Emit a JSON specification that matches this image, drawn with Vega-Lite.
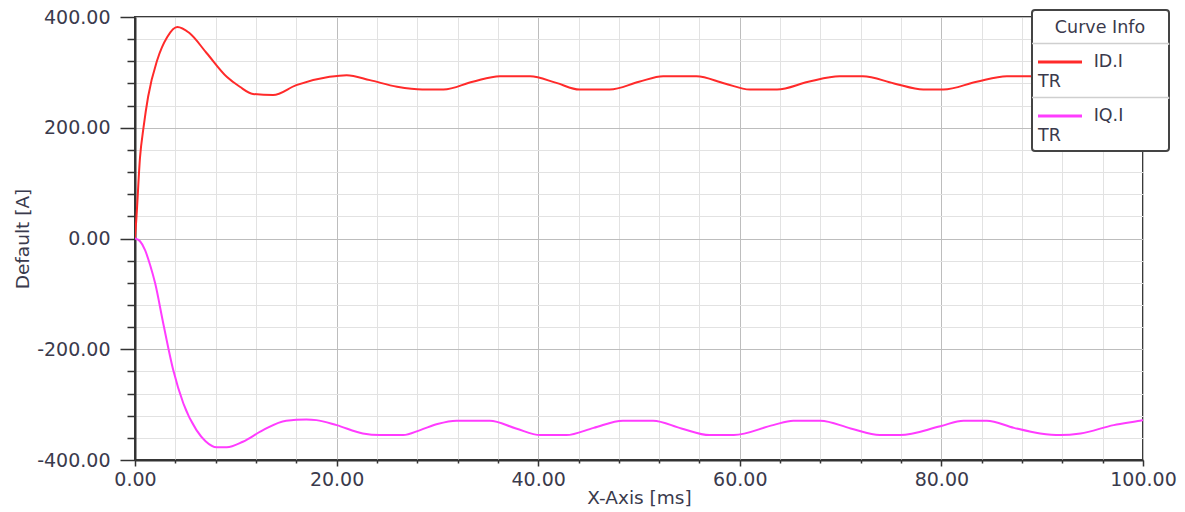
{
  "$schema": "https://vega.github.io/schema/vega-lite/v6.json",
  "autosize": {"type": "none"},
  "width": 1008,
  "height": 443,
  "padding": {"left": 135, "top": 17, "right": 42, "bottom": 52},
  "background": "white",
  "config": {
    "view": {"stroke": "#3a3a3a", "strokeWidth": 2},
    "font": "DejaVu Sans"
  },
  "data": {
    "values": [
      {"t": 0, "v": 0, "curve": "ID.I"},
      {"t": 0.15, "v": 40, "curve": "ID.I"},
      {"t": 0.5, "v": 147, "curve": "ID.I"},
      {"t": 0.85, "v": 201, "curve": "ID.I"},
      {"t": 1.3, "v": 256, "curve": "ID.I"},
      {"t": 2.2, "v": 322, "curve": "ID.I"},
      {"t": 3.2, "v": 364, "curve": "ID.I"},
      {"t": 4.2, "v": 382, "curve": "ID.I"},
      {"t": 5.4, "v": 371, "curve": "ID.I"},
      {"t": 7.1, "v": 335, "curve": "ID.I"},
      {"t": 9.1, "v": 292, "curve": "ID.I"},
      {"t": 10.4, "v": 274, "curve": "ID.I"},
      {"t": 11.7, "v": 261, "curve": "ID.I"},
      {"t": 13.7, "v": 259, "curve": "ID.I"},
      {"t": 16.0, "v": 277, "curve": "ID.I"},
      {"t": 19.3, "v": 292, "curve": "ID.I"},
      {"t": 21.0, "v": 295, "curve": "ID.I"},
      {"t": 23.3, "v": 286, "curve": "ID.I"},
      {"t": 26.0, "v": 274, "curve": "ID.I"},
      {"t": 28.5, "v": 269, "curve": "ID.I"},
      {"t": 30.6, "v": 269, "curve": "ID.I"},
      {"t": 33.5, "v": 283, "curve": "ID.I"},
      {"t": 36.2, "v": 293, "curve": "ID.I"},
      {"t": 39.2, "v": 293, "curve": "ID.I"},
      {"t": 41.8, "v": 281, "curve": "ID.I"},
      {"t": 44.1, "v": 269, "curve": "ID.I"},
      {"t": 47.1, "v": 269, "curve": "ID.I"},
      {"t": 50.0, "v": 283, "curve": "ID.I"},
      {"t": 52.4, "v": 293, "curve": "ID.I"},
      {"t": 55.7, "v": 293, "curve": "ID.I"},
      {"t": 58.5, "v": 280, "curve": "ID.I"},
      {"t": 61.0, "v": 269, "curve": "ID.I"},
      {"t": 63.7, "v": 269, "curve": "ID.I"},
      {"t": 66.8, "v": 283, "curve": "ID.I"},
      {"t": 69.9, "v": 293, "curve": "ID.I"},
      {"t": 72.2, "v": 293, "curve": "ID.I"},
      {"t": 75.3, "v": 280, "curve": "ID.I"},
      {"t": 78.2, "v": 269, "curve": "ID.I"},
      {"t": 80.2, "v": 269, "curve": "ID.I"},
      {"t": 83.5, "v": 283, "curve": "ID.I"},
      {"t": 86.5, "v": 293, "curve": "ID.I"},
      {"t": 88.8, "v": 293, "curve": "ID.I"},
      {"t": 92.0, "v": 280, "curve": "ID.I"},
      {"t": 95.0, "v": 269, "curve": "ID.I"},
      {"t": 97.0, "v": 270, "curve": "ID.I"},
      {"t": 100.0, "v": 279, "curve": "ID.I"},

      {"t": 0, "v": 0, "curve": "IQ.I"},
      {"t": 0.5, "v": -5, "curve": "IQ.I"},
      {"t": 1.0, "v": -21, "curve": "IQ.I"},
      {"t": 1.5, "v": -48, "curve": "IQ.I"},
      {"t": 2.0, "v": -81, "curve": "IQ.I"},
      {"t": 2.8, "v": -153, "curve": "IQ.I"},
      {"t": 3.8, "v": -238, "curve": "IQ.I"},
      {"t": 4.8, "v": -298, "curve": "IQ.I"},
      {"t": 6.1, "v": -346, "curve": "IQ.I"},
      {"t": 7.0, "v": -366, "curve": "IQ.I"},
      {"t": 8.1, "v": -377, "curve": "IQ.I"},
      {"t": 9.1, "v": -377, "curve": "IQ.I"},
      {"t": 10.7, "v": -367, "curve": "IQ.I"},
      {"t": 12.7, "v": -346, "curve": "IQ.I"},
      {"t": 15.0, "v": -329, "curve": "IQ.I"},
      {"t": 17.0, "v": -327, "curve": "IQ.I"},
      {"t": 18.0, "v": -328, "curve": "IQ.I"},
      {"t": 20.0, "v": -337, "curve": "IQ.I"},
      {"t": 22.6, "v": -352, "curve": "IQ.I"},
      {"t": 24.3, "v": -355, "curve": "IQ.I"},
      {"t": 26.6, "v": -355, "curve": "IQ.I"},
      {"t": 28.3, "v": -346, "curve": "IQ.I"},
      {"t": 30.0, "v": -335, "curve": "IQ.I"},
      {"t": 31.9, "v": -329, "curve": "IQ.I"},
      {"t": 35.2, "v": -329, "curve": "IQ.I"},
      {"t": 37.8, "v": -343, "curve": "IQ.I"},
      {"t": 40.2, "v": -355, "curve": "IQ.I"},
      {"t": 42.8, "v": -355, "curve": "IQ.I"},
      {"t": 45.5, "v": -342, "curve": "IQ.I"},
      {"t": 48.4, "v": -329, "curve": "IQ.I"},
      {"t": 51.4, "v": -329, "curve": "IQ.I"},
      {"t": 54.2, "v": -343, "curve": "IQ.I"},
      {"t": 57.0, "v": -355, "curve": "IQ.I"},
      {"t": 59.4, "v": -355, "curve": "IQ.I"},
      {"t": 63.3, "v": -337, "curve": "IQ.I"},
      {"t": 65.3, "v": -329, "curve": "IQ.I"},
      {"t": 68.0, "v": -329, "curve": "IQ.I"},
      {"t": 71.0, "v": -343, "curve": "IQ.I"},
      {"t": 73.9, "v": -355, "curve": "IQ.I"},
      {"t": 75.9, "v": -355, "curve": "IQ.I"},
      {"t": 79.9, "v": -339, "curve": "IQ.I"},
      {"t": 82.2, "v": -329, "curve": "IQ.I"},
      {"t": 84.5, "v": -329, "curve": "IQ.I"},
      {"t": 87.2, "v": -342, "curve": "IQ.I"},
      {"t": 89.8, "v": -352, "curve": "IQ.I"},
      {"t": 91.8, "v": -355, "curve": "IQ.I"},
      {"t": 93.8, "v": -352, "curve": "IQ.I"},
      {"t": 97.1, "v": -337, "curve": "IQ.I"},
      {"t": 99.7, "v": -329, "curve": "IQ.I"},
      {"t": 100.0, "v": -328, "curve": "IQ.I"}
    ]
  },
  "mark": {"type": "line", "strokeWidth": 2, "interpolate": "monotone", "clip": true},
  "encoding": {
    "x": {
      "field": "t",
      "type": "quantitative",
      "scale": {"domain": [0, 100], "nice": false, "zero": false},
      "axis": {
        "title": "X-Axis [ms]",
        "values": [0, 4, 8, 12, 16, 20, 24, 28, 32, 36, 40, 44, 48, 52, 56, 60, 64, 68, 72, 76, 80, 84, 88, 92, 96, 100],
        "labelExpr": "datum.value % 20 === 0 ? format(datum.value, '.2f') : ''",
        "labelFont": "DejaVu Sans",
        "labelFontSize": 19,
        "labelColor": "#3a3a4c",
        "labelPadding": 4,
        "labelOverlap": false,
        "labelBound": false,
        "labelFlush": false,
        "tickColor": "#333333",
        "tickWidth": 1.5,
        "tickSize": {"condition": {"test": "datum.value % 20 === 0", "value": 6}, "value": 3},
        "domainColor": "#333333",
        "domainWidth": 2,
        "grid": true,
        "gridColor": {"condition": {"test": "datum.value % 20 === 0", "value": "#bdbdbd"}, "value": "#e2e2e2"},
        "gridWidth": 1,
        "titleFont": "DejaVu Sans",
        "titleFontSize": 18.5,
        "titleFontWeight": "normal",
        "titleColor": "#3a3a4c",
        "titleX": 504,
        "titleY": 37,
        "titleAlign": "center",
        "titleBaseline": "middle"
      }
    },
    "y": {
      "field": "v",
      "type": "quantitative",
      "scale": {"domain": [-400, 400], "nice": false, "zero": false},
      "axis": {
        "title": "Default [A]",
        "values": [-400, -360, -320, -280, -240, -200, -160, -120, -80, -40, 0, 40, 80, 120, 160, 200, 240, 280, 320, 360, 400],
        "labelExpr": "datum.value % 200 === 0 ? (datum.value < 0 ? '-' : '') + format(abs(datum.value), '.2f') : ''",
        "labelFont": "DejaVu Sans",
        "labelFontSize": 19,
        "labelColor": "#3a3a4c",
        "labelPadding": 10,
        "labelOverlap": false,
        "labelBound": false,
        "labelFlush": false,
        "tickColor": "#333333",
        "tickWidth": 1.5,
        "tickSize": {"condition": {"test": "datum.value % 200 === 0", "value": 15}, "value": 8},
        "domainColor": "#333333",
        "domainWidth": 2,
        "grid": true,
        "gridColor": {"condition": {"test": "datum.value % 200 === 0", "value": "#bdbdbd"}, "value": "#e2e2e2"},
        "gridWidth": 1,
        "titleFont": "DejaVu Sans",
        "titleFontSize": 18.5,
        "titleFontWeight": "normal",
        "titleColor": "#3a3a4c",
        "titleX": -113,
        "titleY": 221.5,
        "titleAlign": "center",
        "titleBaseline": "middle"
      }
    },
    "color": {
      "field": "curve",
      "type": "nominal",
      "scale": {"domain": ["ID.I", "IQ.I"], "range": ["#ff2a2a", "#ff3cff"]},
      "legend": {
        "title": "Curve Info",
        "orient": "none",
        "legendX": 897,
        "legendY": -7,
        "padding": 0,
        "fillColor": "white",
        "strokeColor": "#444444",
        "cornerRadius": 3,
        "titleFont": "DejaVu Sans",
        "titleFontSize": 17.5,
        "titleFontWeight": "normal",
        "titleColor": "#3a3a4c",
        "titleAnchor": "middle",
        "titlePadding": 16,
        "symbolType": "M-1,-0.23H1M0,1.04",
        "symbolSize": 1936,
        "symbolStrokeWidth": 3,
        "symbolOffset": 4.5,
        "labelFont": "DejaVu Sans",
        "labelFontSize": 17.5,
        "labelColor": "#3a3a4c",
        "labelOffset": -45.5,
        "labelLimit": 0,
        "labelLineHeight": 21,
        "rowPadding": 0,
        "labelExpr": "['\u200b\u00a0\u00a0\u00a0\u00a0\u00a0\u00a0\u00a0\u00a0\u00a0\u00a0' + datum.label + '\u00a0\u00a0\u00a0\u00a0\u00a0\u00a0\u00a0\u00a0\u200b', 'TR']",
        "encode": {
          "legend": {"update": {"strokeWidth": {"value": 2}}},
          "title": {"update": {"dy": {"value": 8.5}}},
          "labels": {"update": {"dy": {"value": -5}}},
          "entries": {
            "update": {
              "width": {"value": 138},
              "height": {"value": 54},
              "stroke": {"value": "#cfcfcf"},
              "strokeWidth": {"value": 1.5},
              "strokeDash": {"value": [138, 1000]}
            }
          }
        }
      }
    }
  }
}
